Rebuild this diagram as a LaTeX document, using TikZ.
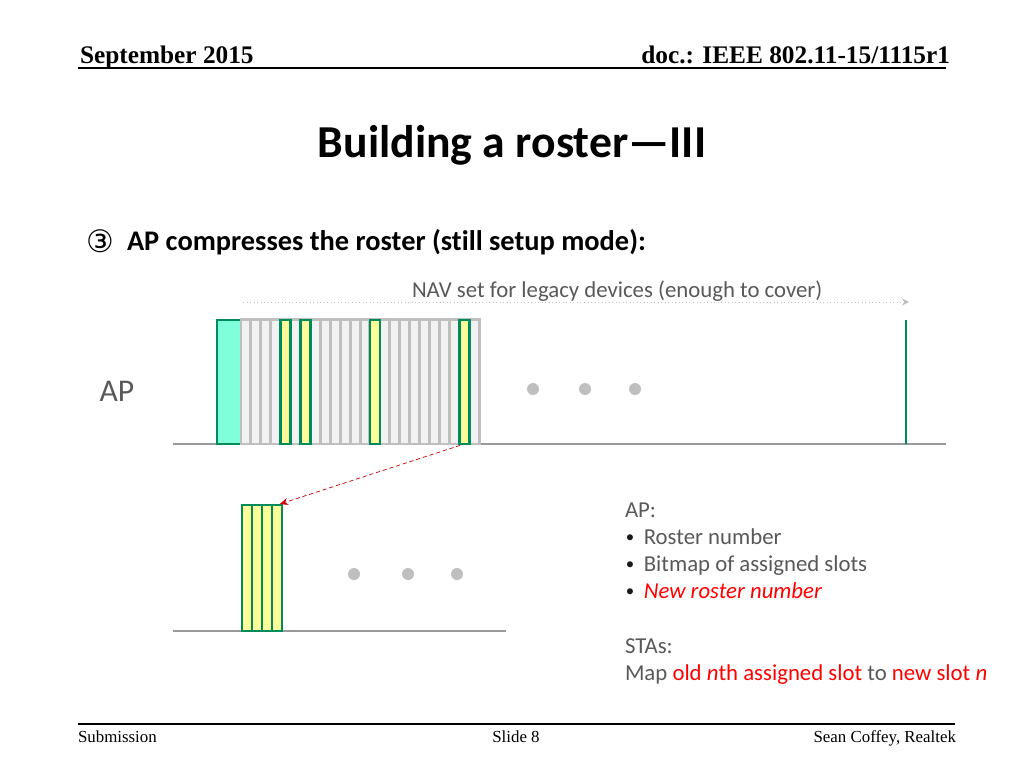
\documentclass[tikz,border=0pt]{standalone}
\usepackage{fontspec}
\setmainfont{Carlito}[RawFeature=-liga]
\newfontfamily\timesfont{Liberation Serif}
\newfontfamily\symfont{DejaVu Sans}
\usepackage{tikz}
\usetikzlibrary{arrows.meta,positioning}

\definecolor{slotgreen}{RGB}{0,140,90}
\definecolor{slotyellow}{RGB}{255,255,153}
\definecolor{slotaqua}{RGB}{128,255,219}
\definecolor{slotgray}{RGB}{191,191,191}
\definecolor{slotfill}{RGB}{242,242,242}
\definecolor{textgray}{RGB}{89,89,89}

\newcommand{\bul}{\makebox[0.47cm][l]{\hspace{0.02cm}\textcolor{black!90}{\raisebox{1.2pt}{\fontsize{12pt}{14pt}\selectfont•}}}}

\begin{document}
\begin{tikzpicture}[x=0.025cm,y=-0.025cm,
    every node/.style={inner sep=0pt,outer sep=0pt},
    idle slot/.style={draw=slotgray,fill=slotfill,line width=2.1pt,
      minimum width=0.248cm,minimum height=3.1cm,anchor=south west},
    used slot/.style={draw=slotgreen,fill=slotyellow,line width=1.9pt,
      minimum width=0.25cm,minimum height=3.1cm,anchor=south west},
    packed slot/.style={draw=slotgreen,fill=slotyellow,line width=1.9pt,
      minimum width=0.25cm,minimum height=3.15cm,anchor=south west},
    dot/.style={circle,fill=slotgray,minimum size=0.3cm},
    body text/.style={anchor=base west,text=textgray,font=\fontsize{16.2pt}{19pt}\selectfont},
    hl/.style={text=red}]

  \useasboundingbox (0,0) rectangle (1024,768);

  % header and footer
  \node[anchor=base west,font=\timesfont\bfseries\fontsize{18pt}{21pt}\selectfont] (date) at (80,64) {September 2015};
  \node[anchor=base east,font=\timesfont\bfseries\fontsize{18pt}{21pt}\selectfont] (doc) at (950,64) {doc.: IEEE 802.11-15/1115r1};
  \draw[line width=1.4pt] (78,68) -- (946,68);
  \draw[line width=1.4pt] (78,724) -- (955,724);
  \node[anchor=base west,font=\timesfont\fontsize{12pt}{14pt}\selectfont] (sub) at (78,742) {Submission};
  \node[anchor=base,font=\timesfont\fontsize{12pt}{14pt}\selectfont] (slide) at (516,742) {Slide 8};
  \node[anchor=base east,font=\timesfont\fontsize{12pt}{14pt}\selectfont] (auth) at (956,742) {Sean Coffey, Realtek};

  % title
  \node[anchor=base,font=\bfseries\fontsize{32.5pt}{38pt}\selectfont] (title) at (512,157) {Building a roster---III};
  \node[font=\symfont\fontsize{22pt}{26pt}\selectfont] (step3) at (100,241) {③};
  \node[anchor=base west,font=\bfseries\fontsize{20.2pt}{24pt}\selectfont] (head) at (127,250) {AP compresses the roster (still setup mode):};

  % NAV
  \node[body text] (nav) at (412,297) {NAV set for legacy devices (enough to cover)};
  \coordinate (navstart) at (243,302);
  \coordinate (navend) at (909,302);
  \draw[slotgray,dotted,line width=0.5pt,-{Stealth[length=5pt,width=5pt]}] (navstart) -- (navend);

  % AP line
  \node[anchor=base,text=textgray,font=\fontsize{22.5pt}{26pt}\selectfont] (ap) at (117,401) {AP};
  \draw[slotgray!80!black,line width=0.8pt] (173,444) -- (946,444);
  \node[draw=slotgreen,fill=slotaqua,line width=1.9pt,minimum width=0.6cm,minimum height=3.1cm,anchor=south west] (beacon) at (217,444) {};
  \foreach \i in {1,...,24}
    \node[idle slot] (s\i) at ({241+9.92*(\i-1)},444) {};
  \foreach \i in {5,7,14,23}
    \node[used slot] (u\i) at ({241+9.92*(\i-1)},444) {};
  \draw[slotgreen,line width=1.9pt] (906,320) -- (906,444);
  \node[dot] (d1) at (533,389) {};
  \node[dot] (d2) at (585,389) {};
  \node[dot] (d3) at (635,389) {};

  % compressed roster
  \draw[slotgray!80!black,line width=0.8pt] (173,631) -- (506,631);
  \foreach \i in {1,...,4}
    \node[packed slot] (c\i) at ({242+10*(\i-1)},631) {};
  \node[dot] (e1) at (354,574) {};
  \node[dot] (e2) at (408,574) {};
  \node[dot] (e3) at (457,574) {};
  \draw[red!80!black,densely dashed,line width=0.5pt,-{Stealth[length=6pt,width=5pt]},shorten <=3pt,shorten >=2pt]
    (u23.south) -- (c4.north);

  % notes
  \node[body text] (n1) at (625,517) {AP:};
  \node[body text] (n2) at (625,544) {\bul Roster number};
  \node[body text] (n3) at (625,571) {\bul Bitmap of assigned slots};
  \node[body text] (n4) at (625,598) {\bul\textcolor{red}{\itshape New roster number}};
  \node[body text] (n5) at (625,653) {STAs:};
  \node[body text] (n6) at (625,680) {Map \textcolor{red}{old \textit{n}th assigned slot} to \textcolor{red}{new slot \textit{n}}};
\end{tikzpicture}
\end{document}
